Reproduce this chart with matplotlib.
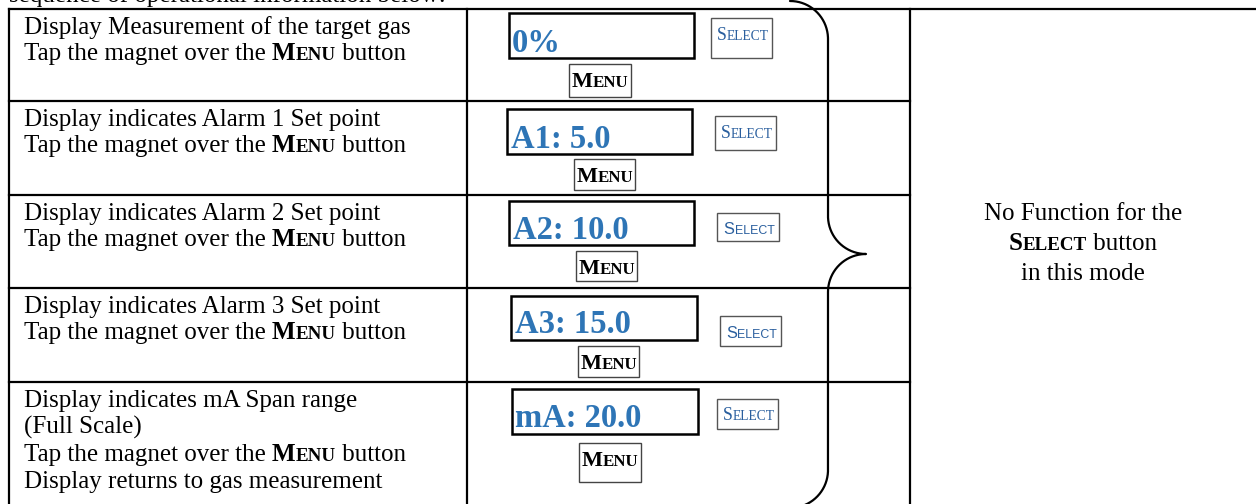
import numpy as np
import matplotlib.pyplot as plt
from matplotlib.patches import Rectangle

# content
row_lines = [
    ["Display Measurement of the target gas", "Tap the magnet over the |Menu| button"],
    ["Display indicates Alarm 1 Set point", "Tap the magnet over the |Menu| button"],
    ["Display indicates Alarm 2 Set point", "Tap the magnet over the |Menu| button"],
    ["Display indicates Alarm 3 Set point", "Tap the magnet over the |Menu| button"],
    ["Display indicates mA Span range", "(Full Scale)", "Tap the magnet over the |Menu| button",
     "Display returns to gas measurement"],
]
readings = ["0%", "A1: 5.0", "A2: 10.0", "A3: 15.0", "mA: 20.0"]
select_label = "Select"
menu_label = "Menu"
right_note = ["No Function for the", "|Select| button", "in this mode"]
header = "sequence of operational information below:"

# layout (pixels)
W, H = 1256, 504
row_tops = [9, 101, 195, 288, 382]
col_x = [9, 467, 910]
display_boxes = [(509, 13, 694, 58), (507, 109, 692, 154), (509, 201, 694, 245),
                 (511, 296, 697, 340), (512, 389, 698, 434)]
reading_xy = [(512, 52), (511, 148), (513, 239), (515, 333), (515, 427)]
select_boxes = [(711, 18, 772, 58), (715, 116, 776, 150), (717, 213, 779, 241),
                (720, 316, 781, 346), (717, 399, 778, 429)]
select_sans = [False, False, True, True, False]
menu_boxes = [(569, 64, 631, 97), (574, 159, 635, 190), (576, 251, 637, 281),
              (578, 346, 639, 377), (579, 443, 641, 482)]

BLUE = '#2e75b6'
SEL_BLUE = '#2a5f9e'
SERIF = 'Liberation Serif'
SANS = 'Liberation Sans'
BODY = 18

fig = plt.figure(figsize=(W / 100, H / 100), dpi=100)
ax = fig.add_axes([0, 0, 1, 1])
ax.set_xlim(0, W)
ax.set_ylim(H, 0)
ax.axis('off')
renderer = fig.canvas.get_renderer()


def small_caps(word, size, weight, ratio=0.76):
    return [(word[0].upper(), size, weight), (word[1:].upper(), size * ratio, weight)]


def rich(x, y, parts, ha='left', color='black', family=SERIF):
    texts, widths = [], []
    for s, size, weight in parts:
        t = ax.text(x, y, s, fontsize=size, fontweight=weight, family=family,
                    color=color, va='baseline', ha='left')
        texts.append(t)
        widths.append(t.get_window_extent(renderer).width)
    total = sum(widths)
    start = x - total / 2 if ha == 'center' else x
    for t, w in zip(texts, widths):
        t.set_x(start)
        start += w


def line_parts(line, size):
    parts = []
    for i, chunk in enumerate(line.split('|')):
        if not chunk:
            continue
        if i % 2 == 1:
            parts += small_caps(chunk, size, 'bold')
        else:
            parts.append((chunk, size, 'normal'))
    return parts


# table lines
lw = 1.6
ax.plot([col_x[0], W], [row_tops[0], row_tops[0]], color='black', lw=lw)
for y in row_tops[1:]:
    ax.plot([col_x[0], col_x[2]], [y, y], color='black', lw=lw)
for x in col_x:
    ax.plot([x, x], [row_tops[0], H + 5], color='black', lw=lw)

# header text cut at top
ax.text(9, 2, header, fontsize=BODY, family=SERIF, va='baseline')

# left column text
for top, lines in zip(row_tops, row_lines):
    step = 27 if len(lines) > 2 else 25.7
    for k, line in enumerate(lines):
        rich(24, top + 25 + k * step, line_parts(line, BODY))

# display boxes and buttons
for i in range(5):
    x0, y0, x1, y1 = display_boxes[i]
    ax.add_patch(Rectangle((x0, y0), x1 - x0, y1 - y0, fill=False, ec='black', lw=1.8))
    rx, ry = reading_xy[i]
    ax.text(rx, ry, readings[i], fontsize=23.5, fontweight='bold', family=SERIF,
            color=BLUE, va='baseline')

    x0, y0, x1, y1 = select_boxes[i]
    ax.add_patch(Rectangle((x0, y0), x1 - x0, y1 - y0, fill=False, ec='#555555', lw=1.0))
    fam = SANS if select_sans[i] else SERIF
    size = 11.8 if select_sans[i] else 12.8
    rich((x0 + x1) / 2 + 1, y0 + 21.5, small_caps(select_label, size, 'normal'),
         ha='center', color=SEL_BLUE, family=fam)

    x0, y0, x1, y1 = menu_boxes[i]
    ax.add_patch(Rectangle((x0, y0), x1 - x0, y1 - y0, fill=False, ec='#444444', lw=1.0))
    rich((x0 + x1) / 2, y0 + 23, small_caps(menu_label, 16, 'bold', 0.76), ha='center')

# curly brace
r = 38
bx, tipx, tipy = 828, 866, 254
t = np.linspace(0, np.pi / 2, 40)
xs = np.concatenate([bx - r + r * np.sin(t), tipx - r * np.cos(t),
                     tipx - r * np.sin(t), bx - r + r * np.cos(t)])
ys = np.concatenate([1 + r - r * np.cos(t), tipy - r + r * np.sin(t),
                     tipy + r - r * np.cos(t), 470 + r * np.sin(t)])
ax.plot(xs, ys, color='black', lw=1.6, solid_capstyle='round')

# right column note
cx = (col_x[2] + W) / 2
for k, line in enumerate(right_note):
    rich(cx, 220 + k * 30, line_parts(line, BODY), ha='center')

fig.savefig('out.png', dpi=100)
